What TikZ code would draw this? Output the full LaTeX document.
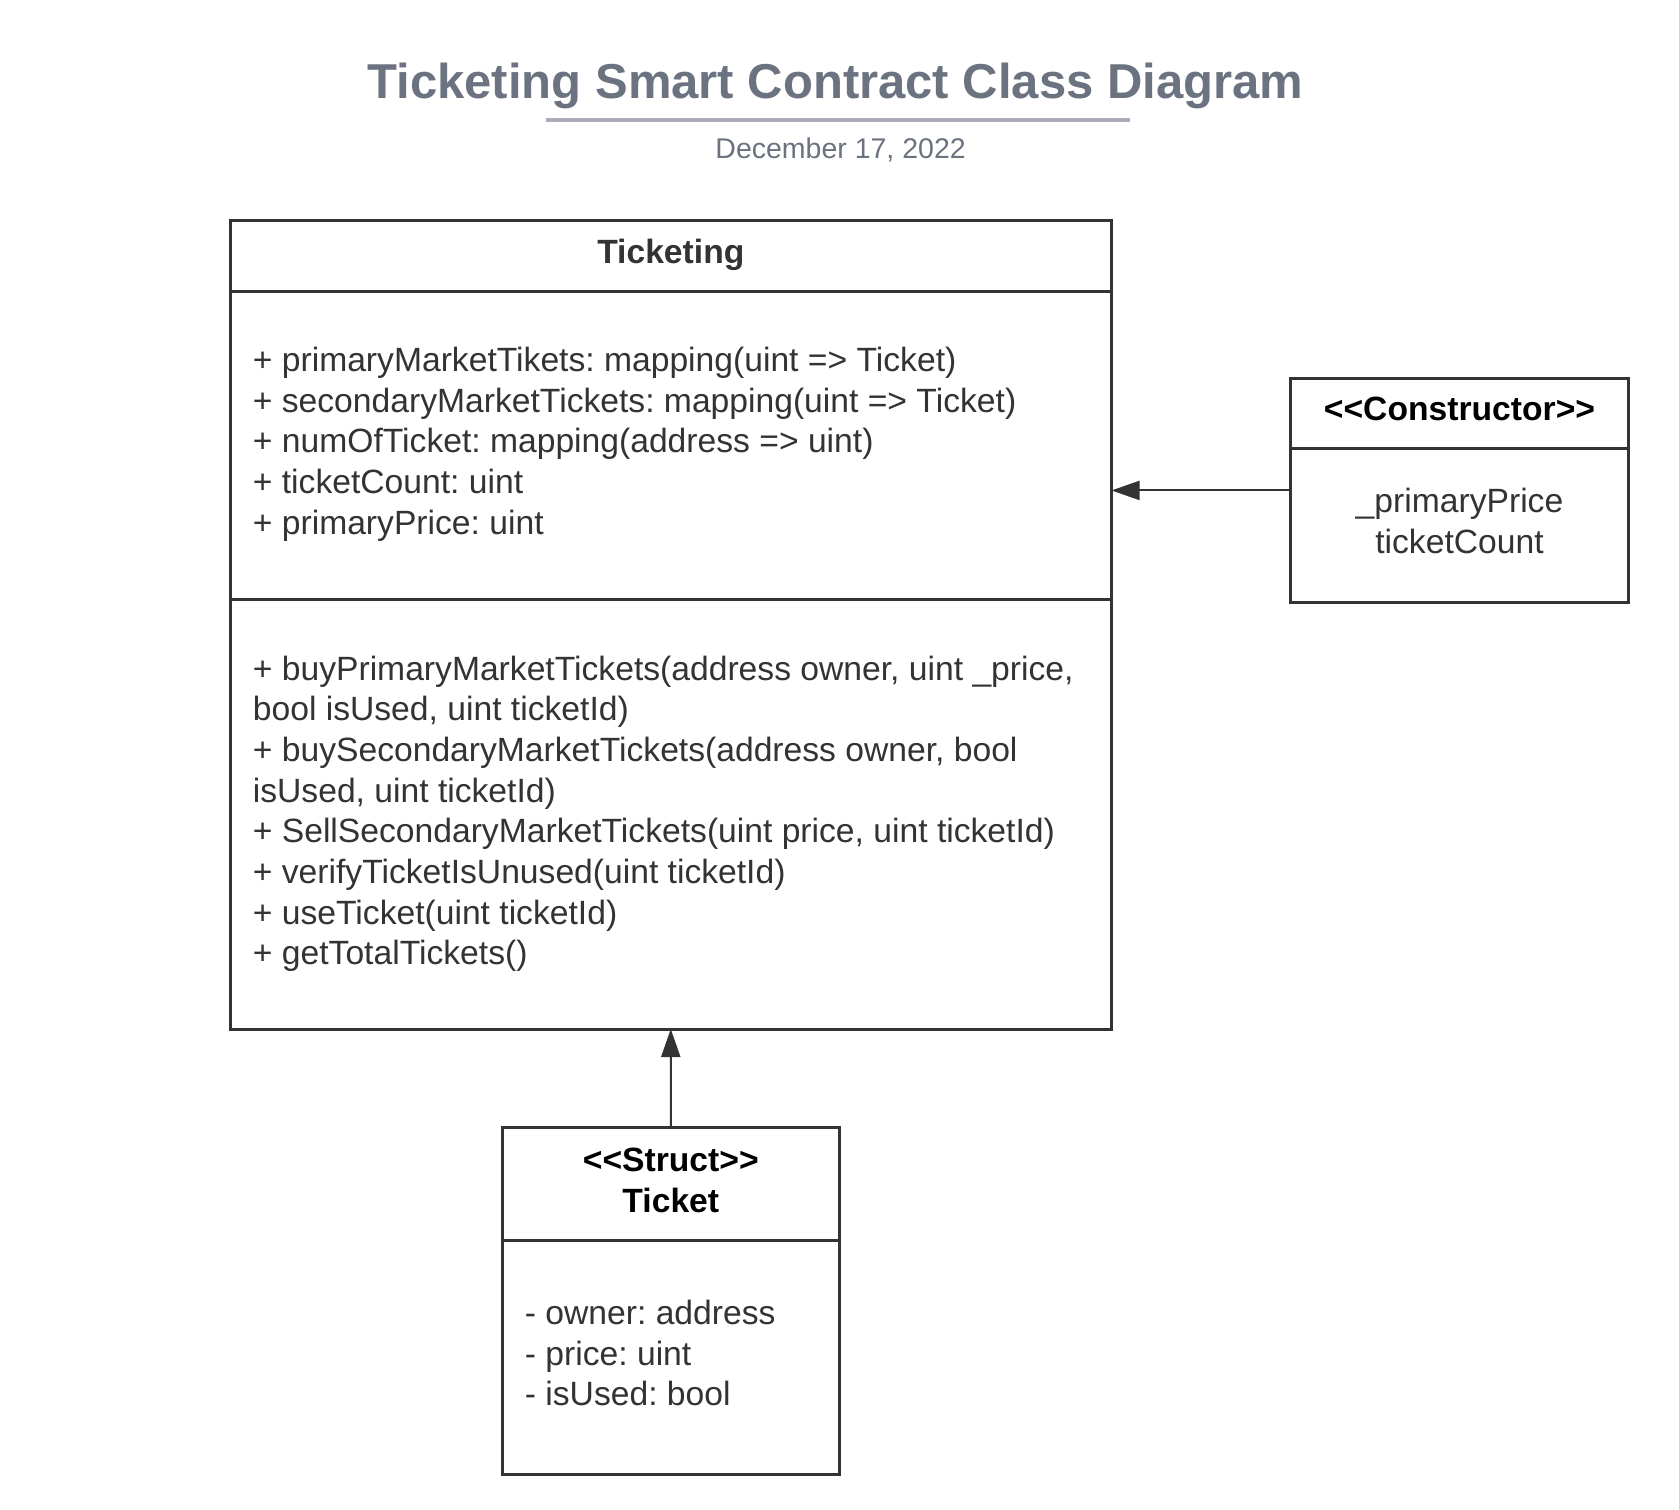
\documentclass[tikz,border=0pt]{standalone}
\usepackage{fontspec}
\setmainfont{Liberation Sans}
\usetikzlibrary{arrows.meta}
\definecolor{ink}{HTML}{333333}
\definecolor{titlegray}{HTML}{6B7280}
\definecolor{rulegray}{HTML}{A8ADB7}
\frenchspacing
\begin{document}
\begin{tikzpicture}[x=1pt,y=-1pt,
  boxframe/.style={draw=ink,line width=3pt,rectangle,inner sep=0pt,outer sep=0pt,anchor=north west},
  divider/.style={draw=ink,line width=3pt},
  body/.style={anchor=base west,inner sep=0pt,text=ink,font=\fontsize{33.65}{40}\selectfont},
  bodyc/.style={anchor=base,inner sep=0pt,text=ink,font=\fontsize{33.65}{40}\selectfont},
  head/.style={anchor=base,inner sep=0pt,font=\fontsize{33.65}{40}\selectfont\bfseries},
  conn/.style={draw=ink,line width=2pt,-{Triangle[length=28pt,width=19pt]}}]
\useasboundingbox (0,0) rectangle (1679,1510);
\fill[white] (0,0) rectangle (1679,1510);
% title
\node[anchor=base,inner sep=0pt,text=titlegray,font=\fontsize{49}{54}\selectfont\bfseries] (title) at (835.5,98.5) {Ticketing Smart Contract Class Diagram};
\draw[rulegray,line width=3.5pt] (546,120) -- (1130,120);
\node[anchor=base,inner sep=0pt,text=titlegray,font=\fontsize{28.5}{32}\selectfont] (date) at (840.6,158.5) {December 17, 2022};
% Ticketing box
\node[boxframe,minimum width=881.5pt,minimum height=808.4pt] (tick) at (230,220.6) {};
\draw[divider] (tick.west |- 0,291.3) -- (tick.east |- 0,291.3);
\draw[divider] (tick.west |- 0,599.6) -- (tick.east |- 0,599.6);
\node[head,text=ink] (tickname) at (670.8,263) {Ticketing};
\foreach \t [count=\i] in {{+ primaryMarketTikets: mapping(uint => Ticket)},
  {+ secondaryMarketTickets: mapping(uint => Ticket)},
  {+ numOfTicket: mapping(address => uint)},
  {+ ticketCount: uint},
  {+ primaryPrice: uint}}
  \node[body] (attr\i) at (252.7,371.5+40.7*\i-40.7) {\t};
\foreach \t [count=\i] in {{+ buyPrimaryMarketTickets(address owner, uint \_price,},
  {bool isUsed, uint ticketId)},
  {+ buySecondaryMarketTickets(address owner, bool},
  {isUsed, uint ticketId)},
  {+ SellSecondaryMarketTickets(uint price, uint ticketId)},
  {+ verifyTicketIsUnused(uint ticketId)},
  {+ useTicket(uint ticketId)},
  {+ getTotalTickets()}}
  \node[body] (meth\i) at (252.7,680+40.7*\i-40.7) {\t};
% Constructor box
\node[boxframe,minimum width=338.4pt,minimum height=224.9pt] (cons) at (1290.3,378) {};
\draw[divider] (cons.west |- 0,448.7) -- (cons.east |- 0,448.7);
\node[head,text=black] (consname) at (1459.5,420.5) {<{}<Constructor>{}>};
\node[bodyc] (cons1) at (1459.5,512.8) {\_primaryPrice};
\node[bodyc] (cons2) at (1459.5,553.5) {ticketCount};
% Struct box
\node[boxframe,minimum width=337.3pt,minimum height=346.9pt] (struct) at (502.2,1127.6) {};
\draw[divider] (struct.west |- 0,1240) -- (struct.east |- 0,1240);
\node[head,text=black] (structst) at (670.8,1171.4) {<{}<Struct>{}>};
\node[head,text=black] (structname) at (670.8,1212.1) {Ticket};
\foreach \t [count=\i] in {{- owner: address},{- price: uint},{- isUsed: bool}}
  \node[body] (sattr\i) at (524.7,1324.5+40.7*\i-40.7) {\t};
% connectors
\draw[conn] (cons.west) -- (tick.east |- cons.west);
\draw[conn] (struct.north) -- (tick.south);
\end{tikzpicture}
\end{document}
